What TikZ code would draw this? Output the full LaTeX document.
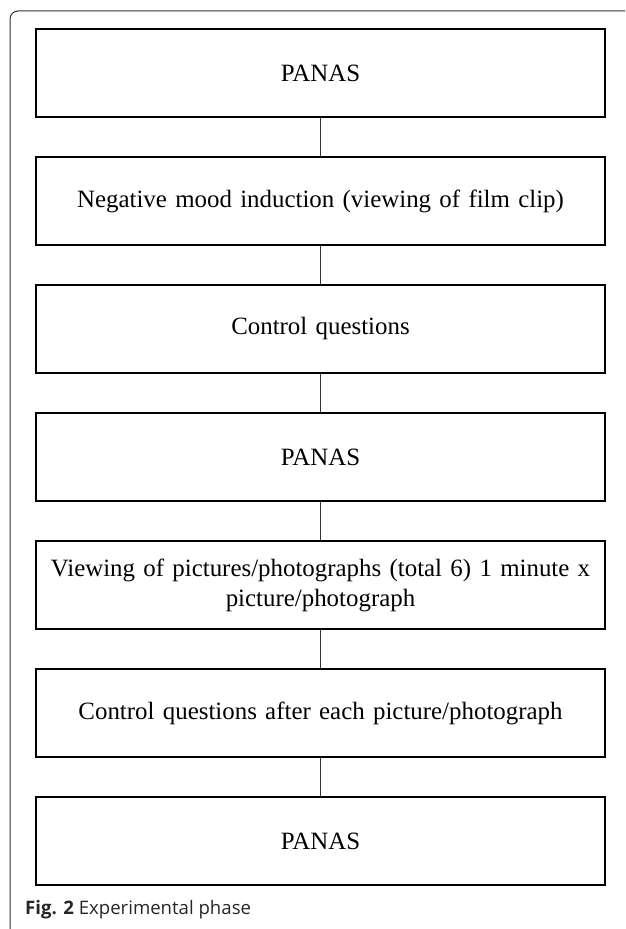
\documentclass[tikz,border=0pt]{standalone}
\usepackage{fontspec}
\setmainfont{Liberation Serif}
\newfontfamily\capfont{Open Sans}
\usepackage{tikz}
\usetikzlibrary{positioning}

\begin{document}
\begin{tikzpicture}[x=1pt,y=1pt,
  phase/.style={draw, line width=2pt, minimum width=569pt, minimum height=88pt,
    text width=560pt, align=center, inner sep=0pt,
    font=\fontsize{24.9}{30}\selectfont},
  link/.style={-, line width=1pt, color=black!80}]
\useasboundingbox (0,0) rectangle (625,929);
% outer frame
\draw[line width=1pt, color=black!80, rounded corners=8pt] (10,0) -- (10,918) -- (625,918);
% phases
\node[phase] (p1) at (320.5,856) {PANAS};
\node[phase, below=38pt of p1] (p2) {Negative mood induction (viewing of film clip)};
\node[phase, below=38pt of p2] (p3) {Control questions};
\node[phase, below=38pt of p3] (p4) {PANAS};
\node[phase, below=38pt of p4] (p5) {Viewing of pictures/photographs (total 6) 1 minute x\\ picture/photograph};
\node[phase, below=38pt of p5] (p6) {Control questions after each picture/photograph};
\node[phase, below=38pt of p6] (p7) {PANAS};
\draw[link] (p1) -- (p2);
\draw[link] (p2) -- (p3);
\draw[link] (p3) -- (p4);
\draw[link] (p4) -- (p5);
\draw[link] (p5) -- (p6);
\draw[link] (p6) -- (p7);
% caption
\node[anchor=base west, inner sep=0pt, color=black!85, font=\capfont\fontsize{18.6}{22}\selectfont] (cap) at (25,14) {\textbf{Fig. 2} Experimental phase};
\end{tikzpicture}
\end{document}
